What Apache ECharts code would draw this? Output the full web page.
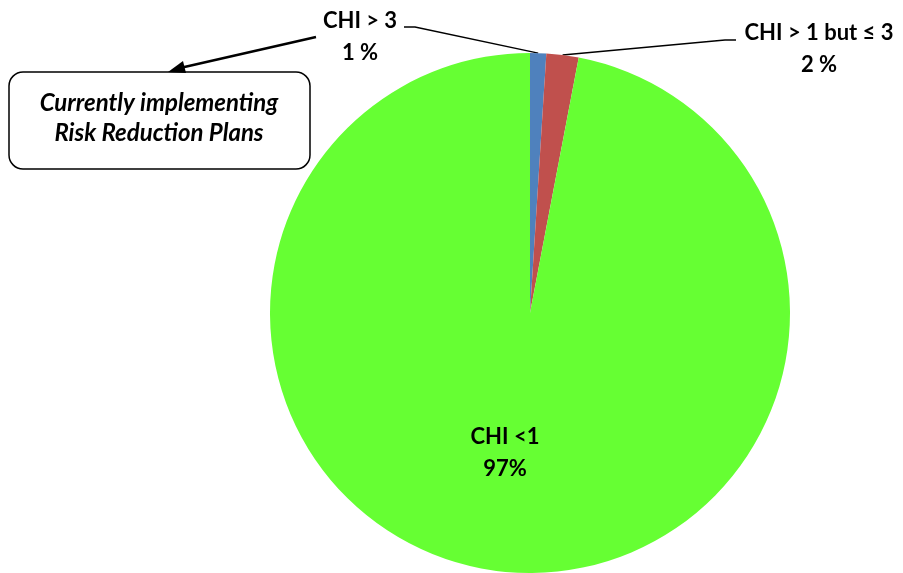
<!DOCTYPE html>
<html>
<head>
<meta charset="utf-8">
<script src="https://cdn.jsdelivr.net/npm/echarts@6/dist/echarts.min.js"></script>
<style>
  html, body { margin: 0; padding: 0; background: #fff; }
  #chart { width: 903px; height: 573px; }
</style>
</head>
<body>
<div id="chart"></div>
<script>
// Share of sites by cumulative hazard index (CHI) band
const categories = ['CHI > 3', 'CHI > 1 but \u2264 3', 'CHI <1'];
const shareValues = [1, 2, 97];
const shareLabels = ['1 %', '2 %', '97%'];
const sliceColors = ['#4F81BD', '#C0504D', '#66FF33'];

// Where each label sits, and the elbow of its leader line
const labelSpots = [
  { x: 360, y: 37, elbow: [[415, 27], [404, 27]] },
  { x: 819, y: 49, elbow: [[725, 40], [736, 40]] },
  { x: 505, y: 453, elbow: null }
];

const FONT = 'Lato, "Open Sans", "DejaVu Sans", sans-serif';

const chart = echarts.init(document.getElementById('chart'), null, { renderer: 'canvas' });

const data = categories.map((name, i) => ({
  name: name,
  value: shareValues[i],
  itemStyle: { color: sliceColors[i] },
  label: { position: i === 2 ? 'inside' : 'outside' },
  labelLine: { show: i !== 2 }
}));

chart.setOption({
  animation: false,
  series: [{
    type: 'pie',
    center: [530, 313],
    radius: [0, 260],
    startAngle: 90,
    clockwise: true,
    avoidLabelOverlap: false,
    itemStyle: { borderWidth: 0 },
    data: data,
    label: {
      show: true,
      color: '#000',
      fontFamily: FONT,
      fontWeight: 'bold',
      fontSize: 22,
      lineHeight: 32,
      align: 'center',
      formatter: p => p.name + '\n' + shareLabels[p.dataIndex]
    },
    labelLine: {
      show: true,
      lineStyle: { color: '#000', width: 1.5 }
    },
    labelLayout: function (params) {
      const spot = labelSpots[params.dataIndex];
      const out = { x: spot.x, y: spot.y, align: 'center', verticalAlign: 'middle' };
      if (spot.elbow && params.labelLinePoints) {
        out.labelLinePoints = [params.labelLinePoints[0], spot.elbow[0], spot.elbow[1]];
      }
      return out;
    }
  }],
  graphic: [
    {
      type: 'rect',
      shape: { x: 9, y: 72, width: 301, height: 97, r: 14 },
      style: { fill: '#fff', stroke: '#000', lineWidth: 1.5 }
    },
    {
      type: 'text',
      x: 159, y: 118,
      style: {
        text: 'Currently implementing\nRisk Reduction Plans',
        fill: '#000',
        font: 'italic bold 24px ' + FONT,
        lineHeight: 30,
        align: 'center',
        verticalAlign: 'middle'
      }
    },
    {
      type: 'line',
      shape: { x1: 316, y1: 37, x2: 180, y2: 68 },
      style: { stroke: '#000', lineWidth: 2.5 }
    },
    {
      type: 'polygon',
      shape: { points: [[168, 72], [183, 61], [186, 73]] },
      style: { fill: '#000' }
    }
  ]
});
</script>
</body>
</html>
